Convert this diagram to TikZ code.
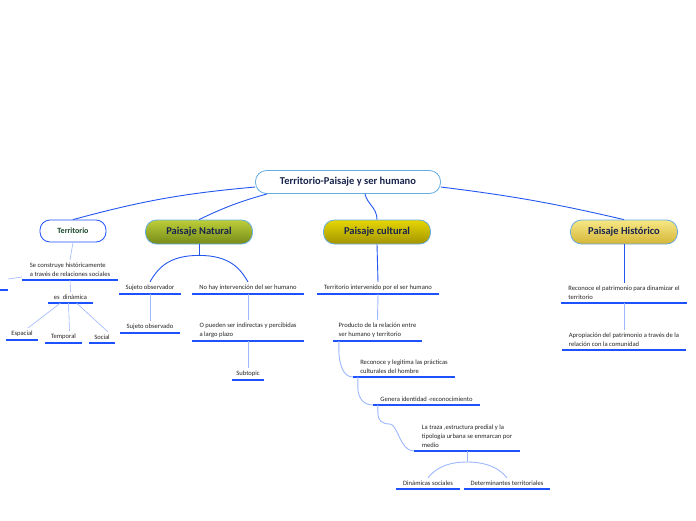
\documentclass[tikz,border=0pt]{standalone}
\usepackage{fontspec}
\setmainfont{Carlito}
\usetikzlibrary{calc,positioning}
\definecolor{mainBlue}{rgb}{0.14 0.34 0.94}
\definecolor{lightBlue}{rgb}{0.62 0.72 1.0}
\definecolor{lineBlue}{rgb}{0.12 0.32 1.0}
\definecolor{frameBlue}{rgb}{0.40 0.68 0.88}
\definecolor{titleNavy}{rgb}{0.10 0.14 0.30}
\definecolor{darkGreen}{rgb}{0.10 0.28 0.16}
\definecolor{oliveTop}{rgb}{0.74 0.81 0.22}
\definecolor{oliveBottom}{rgb}{0.46 0.54 0.10}
\definecolor{mustardTop}{rgb}{0.90 0.84 0.02}
\definecolor{mustardBottom}{rgb}{0.64 0.58 0.0}
\definecolor{sandTop}{rgb}{0.97 0.91 0.52}
\definecolor{sandBottom}{rgb}{0.83 0.71 0.22}

\begin{document}
\begin{tikzpicture}[x=1pt,y=-1pt,
    every node/.style={font=\fontsize{6.6}{9}\selectfont, text=black!85},
    rootbox/.style={draw=frameBlue, line width=0.8pt, fill=white, rounded corners=11pt,
      minimum width=185pt, minimum height=23pt, text=titleNavy,
      font=\bfseries\fontsize{10.5}{12}\selectfont},
    terrbox/.style={draw=lineBlue, line width=0.8pt, fill=white, rounded corners=10pt,
      minimum width=66pt, minimum height=22pt, text=darkGreen,
      font=\bfseries\fontsize{8}{10}\selectfont},
    branch/.style={draw=frameBlue, line width=0.8pt, rounded corners=11pt,
      minimum width=107pt, minimum height=24pt, top color=#1Top, bottom color=#1Bottom,
      text=titleNavy, font=\bfseries\fontsize{10.5}{12}\selectfont},
    topic/.style={anchor=south, minimum width=#1pt, inner xsep=3pt, inner ysep=3pt, align=left},
    uline/.style={lineBlue, line width=1.6pt},
    mainline/.style={mainBlue, line width=0.9pt},
    subline/.style={lightBlue, line width=0.9pt}]

  \path[use as bounding box, fill=white] (0,0) rectangle (696,520);

  % draw the central topic and the four branches
  \node[rootbox] (root) at (348,182) {Territorio-Paisaje y ser humano};
  \node[terrbox] (terr) at (73,231) {Territorio};
  \foreach \nm/\cx/\shade/\txt in {pn/199/olive/{Paisaje Natural},
      pc/377/mustard/{Paisaje cultural}, ph/624/sand/{Paisaje Histórico}}
    \node[branch=\shade] (\nm) at (\cx,232) {\txt};

  % draw the underlined subtopics
  \foreach \nm/\cx/\uy/\uw/\txt in {
      t1/70/280/96/{Se construye históricamente\\a través de relaciones sociales},
      t2/70.5/303/45/{es \ dinámica},
      t3/22/340/32/{Espacial},
      t4/63.5/343/37/{Temporal},
      t5/102/343/26/{Social},
      n1/150/294/62/{Sujeto observador},
      n2/248/294/112/{No hay intervención del ser humano},
      n3/150/333/60/{Sujeto observado},
      n4/248/341/112/{O pueden ser indirectas y percibidas\\a largo plazo},
      n5/248/380/32/{Subtopic},
      c1/378/294/122/{Territorio intervenido por el ser humano},
      c2/377.5/341/89/{Producto de la relación entre\\ser humano y territorio},
      c3/404/377/102/{Reconoce y legitima las prácticas\\culturales del hombre},
      c4/426.5/405/107/{Genera identidad -reconocimiento},
      c5/467/451/106/{La traza ,estructura predial y la\\tipología urbana se enmarcan por\\medio},
      c6/428/489/64/{Dinámicas sociales},
      c7/507/489/86/{Determinantes territoriales},
      h1/624/303/126/{Reconoce el patrimonio para dinamizar el\\territorio},
      h2/624/350/124/{Apropiación del patrimonio a través de la\\relación con la comunidad}}
  {
    \node[topic=\uw] (\nm) at (\cx,\uy) {\txt};
    \draw[uline] (\nm.south west) -- (\nm.south east);
  }

  % the cut topic at the left border
  \coordinate (cutl) at (0,290);
  \coordinate (cutr) at (8,290);
  \coordinate (cut) at (8,279);
  \draw[uline] (cutl) -- (cutr);

  % draw the main branches
  \draw[mainline] ([yshift=-5pt]root.west) to[bend right=5] (terr.north);
  \draw[mainline] ([xshift=12pt]root.south west) to[bend right=5] (pn.north);
  \draw[mainline] ([xshift=17pt]root.south) .. controls +(2,10) and +(0,-12) .. (pc.north);
  \draw[mainline] ([yshift=-5pt]root.east) to[bend left=3] (ph.north);

  % Territorio
  \draw[subline, line width=0.6pt] (terr.south) -- (t1.north);
  \draw[subline, line width=0.6pt] ([yshift=3pt]t1.south west) -- (cut);
  \draw[subline, line width=0.6pt] (t1.south) -- (t2.north);
  \foreach \dx/\kid in {-10/t3, -2/t4, 6/t5}
    \draw[subline, line width=0.6pt] ([xshift=\dx pt]t2.south) -- ([xshift=6pt]\kid.north);

  % Paisaje Natural
  \draw[mainline] (pn.south) -- ++(0,11) coordinate (pnfork);
  \draw[mainline] (pnfork) .. controls +(-30,0) and +(8,-14) .. (n1.north);
  \draw[mainline] (pnfork) .. controls +(30,0) and +(-8,-14) .. (n2.north);
  \draw[subline] (n1.south) -- (n3.north);
  \draw[subline] (n2.south) -- (n4.north);
  \draw[subline] (n4.south) -- (n5.north);

  % Paisaje cultural
  \draw[mainline] (pc.south) -- (c1.north);
  \draw[subline] (c1.south) -- (c2.north);
  \draw[subline] ([xshift=6pt]c2.south west) -- ++(0,8) .. controls +(0,14) and +(-10,0) .. (c3.south west);
  \draw[subline] ([xshift=5pt]c3.south west) -- ++(0,10) .. controls +(0,10) and +(-10,0) .. (c4.south west);
  \draw[subline] ([xshift=5pt]c4.south west) -- ++(0,8) .. controls +(0,7) and +(-8,0) .. ++(12,11)
    .. controls +(8,0) and +(-14,0) .. (c5.south west);
  \draw[subline] (c5.south) -- ++(0,11) coordinate (c5fork);
  \draw[subline] (c5fork) .. controls +(-22,0) and +(6,-8) .. (c6.north);
  \draw[subline] (c5fork) .. controls +(22,0) and +(-6,-8) .. (c7.north);

  % Paisaje Historico
  \draw[mainline] (ph.south) -- (h1.north);
  \draw[subline] (h1.south) -- (h2.north);

\end{tikzpicture}
\end{document}
